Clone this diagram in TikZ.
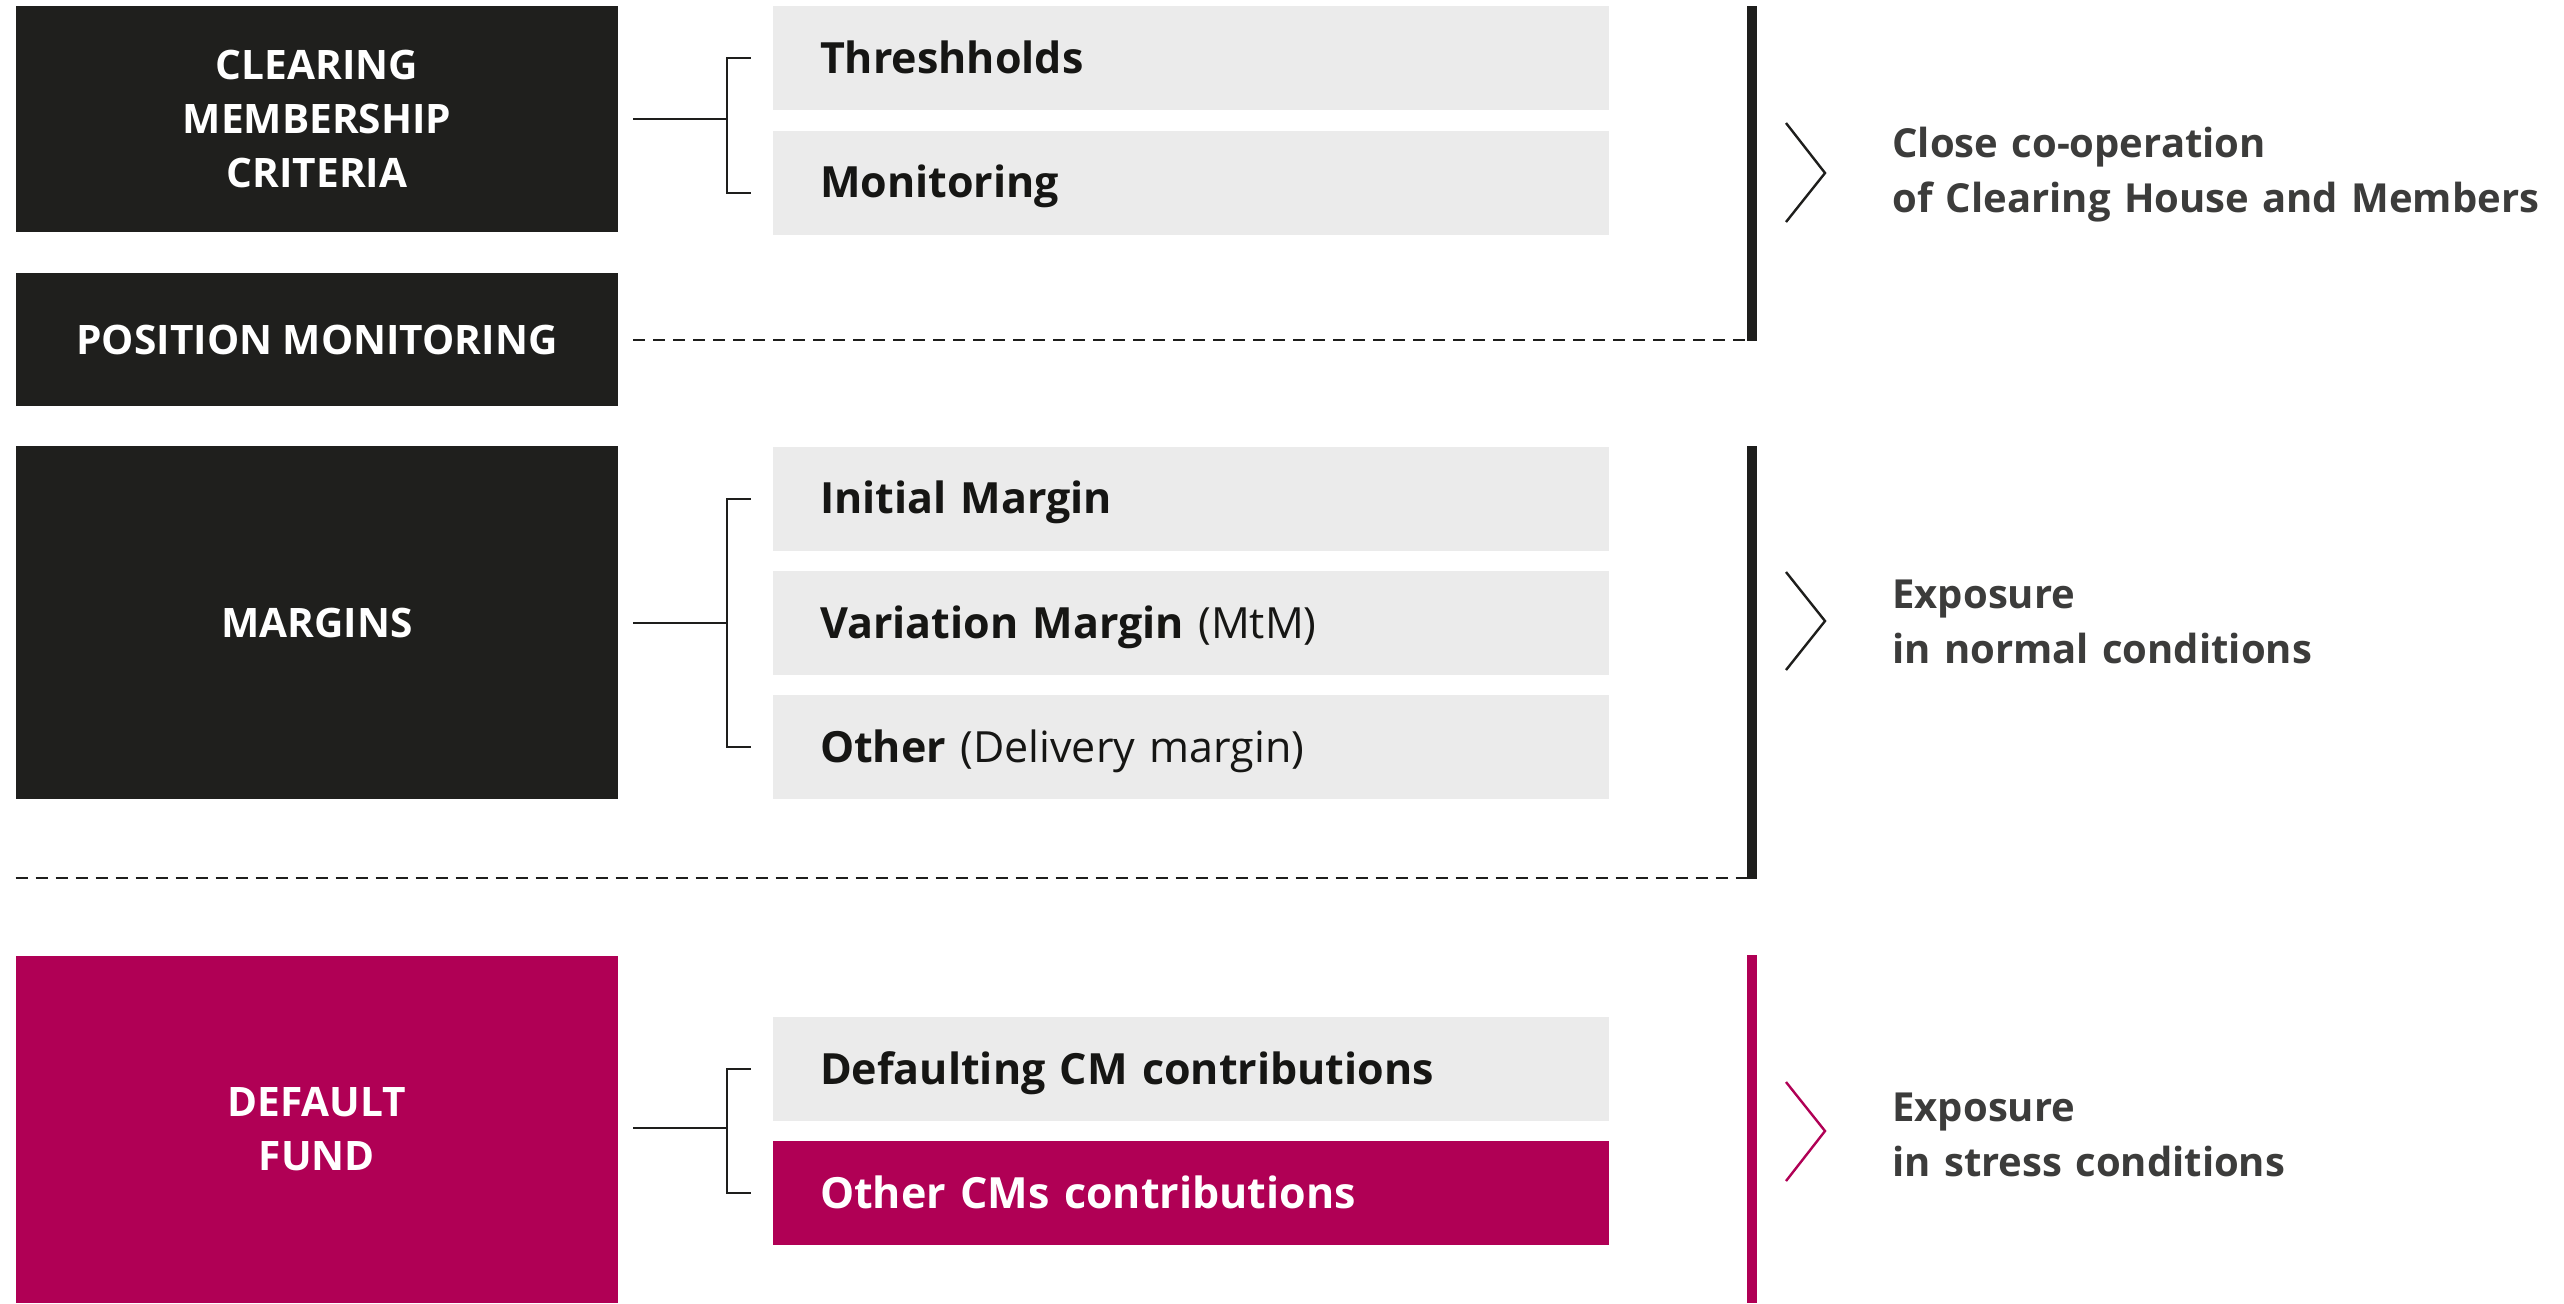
\documentclass[tikz,border=0pt]{standalone}
\usepackage{fontspec}
\setmainfont{Open Sans}
\definecolor{darkbox}{RGB}{31,31,29}
\definecolor{magbox}{RGB}{176,0,85}
\definecolor{lightbox}{RGB}{235,235,235}
\definecolor{subtext}{RGB}{22,22,20}
\definecolor{sidetext}{RGB}{60,60,59}
\definecolor{linecol}{RGB}{30,30,28}
\begin{document}
\begin{tikzpicture}[x=0.5pt,y=-0.5pt,
  mainbox/.style={fill=darkbox, text=white, minimum width=301pt, inner sep=0pt, align=center,
    font=\bfseries\fontsize{20.3}{27}\selectfont},
  subbox/.style={fill=lightbox, text=subtext, inner xsep=23.5pt, inner ysep=0pt, text width=371pt, align=left,
    minimum height=52pt, text height=15pt, text depth=0pt, font=\bfseries\fontsize{21.5}{27}\selectfont},
  sidelabel/.style={anchor=base west, inner sep=0pt, text width=340pt, align=left, text=sidetext,
    font=\bfseries\fontsize{20}{27.5}\selectfont},
  conn/.style={line width=1pt, draw=linecol},
  dashline/.style={line width=1pt, draw=linecol, dash pattern=on 6pt off 4pt},
  barline/.style={line width=5pt, draw=linecol},
  chev/.style={line width=1.2pt, draw=linecol, line join=miter}
]
\useasboundingbox (0,0) rectangle (2564,1303);
\fill[white] (0,0) rectangle (2564,1303);

% main boxes
\node[mainbox, minimum height=113pt] (b1) at (317,119) {CLEARING\\MEMBERSHIP\\CRITERIA};
\node[mainbox, minimum height=66.5pt] (b2) at (317,339.5) {POSITION MONITORING};
\node[mainbox, minimum height=176.5pt] (b3) at (317,622.5) {MARGINS};
\node[mainbox, fill=magbox, minimum height=173.5pt] (b4) at (317,1129.5) {DEFAULT\\FUND};

% sub boxes
\node[subbox] (t1) at (1191,58) {Threshholds};
\node[subbox] (t2) at (1191,182.5) {Monitoring};
\node[subbox] (m1) at (1191,498.5) {Initial Margin};
\node[subbox] (m2) at (1191,623) {Variation Margin {\mdseries (MtM)}};
\node[subbox] (m3) at (1191,747) {Other {\mdseries (Delivery margin)}};
\node[subbox] (f1) at (1191,1069) {Defaulting CM contributions};
\node[subbox, fill=magbox, text=white] (f2) at (1191,1193) {Other CMs contributions};

% brackets
\draw[conn] ([xshift=7.5pt]b1.east) -- ([xshift=54.5pt]b1.east);
\draw[conn] ([xshift=-11pt]t1.west) -- ([xshift=-23pt]t1.west) -- ([xshift=-23pt,yshift=-5pt]t2.west) -- ([xshift=-11pt,yshift=-5pt]t2.west);
\draw[conn] ([xshift=7.5pt]b3.east) -- ([xshift=54.5pt]b3.east);
\draw[conn] ([xshift=-11pt]m1.west) -- ([xshift=-23pt]m1.west) -- ([xshift=-23pt]m3.west) -- ([xshift=-11pt]m3.west);
\draw[conn] ([xshift=7.5pt,yshift=1pt]b4.east) -- ([xshift=54.5pt,yshift=1pt]b4.east);
\draw[conn] ([xshift=-11pt]f1.west) -- ([xshift=-23pt]f1.west) -- ([xshift=-23pt]f2.west) -- ([xshift=-11pt]f2.west);

% bars
\coordinate (bar1t) at (1752,6);
\coordinate (bar1b) at (1752,341);
\coordinate (bar2t) at (1752,446);
\coordinate (bar2b) at (1752,879);
\coordinate (bar3t) at (1752,955);
\coordinate (bar3b) at (1752,1303);
\draw[barline] (bar1t) -- (bar1b);
\draw[barline] (bar2t) -- (bar2b);
\draw[barline, draw=magbox] (bar3t) -- (bar3b);

% dashed lines
\draw[dashline] ([xshift=7.5pt]b2.east) -- (b2.east -| bar1b);
\draw[dashline] (b3.west |- 0,878) -- (bar2b |- 0,878);

% chevrons
\draw[chev] (1786,123) -- (1825,173) -- (1786,222);
\draw[chev] (1786,572) -- (1825,621) -- (1786,670);
\draw[chev, draw=magbox] (1786,1082) -- (1825,1131) -- (1786,1181);

% side labels
\node[sidelabel] (r1) at (1892,157) {Close co-operation\\of Clearing House and Members};
\node[sidelabel] (r2) at (1892,608) {Exposure\\in normal conditions};
\node[sidelabel] (r3) at (1892,1121) {Exposure\\in stress conditions};
\end{tikzpicture}
\end{document}
